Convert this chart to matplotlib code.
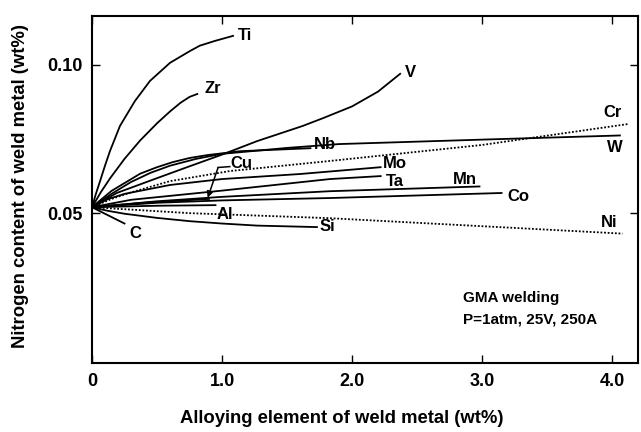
import matplotlib.pyplot as plt
import numpy as np

plt.rcParams.update({'font.family': ['Liberation Sans', 'DejaVu Sans'],
                     'font.weight': 'bold'})

# digitised curves: alloying element (wt%) vs nitrogen content (wt%)
ti_x = [0, 0.03, 0.062, 0.1, 0.138, 0.215, 0.33, 0.446, 0.6, 0.754, 0.83, 0.946, 1.085]
ti_y = [0.052, 0.0565, 0.0608, 0.066, 0.0709, 0.0794, 0.0878, 0.0946, 0.1007, 0.1047, 0.1065, 0.1081, 0.1098]
zr_x = [0, 0.07, 0.14, 0.25, 0.37, 0.5, 0.6, 0.68, 0.75, 0.81]
zr_y = [0.052, 0.0572, 0.0618, 0.0683, 0.0745, 0.0803, 0.0843, 0.0872, 0.0892, 0.0902]
v_x = [0, 0.19, 0.5, 0.75, 1.01, 1.27, 1.62, 1.78, 2.0, 2.2, 2.37]
v_y = [0.052, 0.0568, 0.0618, 0.0658, 0.0699, 0.0743, 0.0794, 0.0821, 0.0860, 0.0910, 0.0970]
nb_x = [0, 0.15, 0.37, 0.5, 0.62, 0.75, 0.89, 1.14, 1.68]
nb_y = [0.052, 0.0575, 0.0633, 0.0655, 0.0672, 0.0686, 0.0696, 0.0709, 0.0719]
w_x = [0, 0.15, 0.3, 0.45, 0.6, 0.8, 1.0, 1.5, 1.9, 3.0, 4.06]
w_y = [0.052, 0.0565, 0.0605, 0.0636, 0.066, 0.0683, 0.0700, 0.0720, 0.0733, 0.0748, 0.0762]
cr_x = [0, 0.15, 0.3, 0.6, 1.06, 1.83, 3.0, 4.13]
cr_y = [0.052, 0.0548, 0.0570, 0.0608, 0.0642, 0.0676, 0.0730, 0.0801]
mo_x = [0, 0.12, 0.25, 0.6, 1.0, 1.6, 2.22]
mo_y = [0.052, 0.0547, 0.0565, 0.0595, 0.0615, 0.0632, 0.0655]
ta_x = [0, 0.3, 1.0, 1.83, 2.22]
ta_y = [0.052, 0.0545, 0.0576, 0.0615, 0.0625]
mn_x = [0, 0.5, 1.0, 1.83, 2.98]
mn_y = [0.052, 0.0540, 0.0555, 0.0574, 0.0590]
co_x = [0, 0.5, 1.0, 1.83, 3.15]
co_y = [0.052, 0.0535, 0.0543, 0.0551, 0.0568]
cu_x = [0, 0.4, 0.9]
cu_y = [0.052, 0.0535, 0.0548]
al_x = [0, 0.5, 0.95]
al_y = [0.052, 0.0525, 0.0527]
ni_x = [0, 0.75, 1.83, 4.08]
ni_y = [0.052, 0.0500, 0.0483, 0.0431]
si_x = [0, 0.12, 0.25, 0.5, 0.75, 1.0, 1.27, 1.73]
si_y = [0.052, 0.0508, 0.0498, 0.0484, 0.0473, 0.0465, 0.0458, 0.0453]
c_x = [0, 0.25]
c_y = [0.052, 0.0465]

solid = [(ti_x, ti_y), (zr_x, zr_y), (v_x, v_y), (nb_x, nb_y), (w_x, w_y),
         (mo_x, mo_y), (ta_x, ta_y), (mn_x, mn_y), (co_x, co_y), (cu_x, cu_y),
         (al_x, al_y), (si_x, si_y), (c_x, c_y)]
dotted = [(cr_x, cr_y), (ni_x, ni_y)]

labels = [('Ti', 1.18, 0.1098), ('Zr', 0.93, 0.0919), ('V', 2.45, 0.0976),
          ('Nb', 1.79, 0.0733), ('Cr', 4.0, 0.0838), ('W', 4.02, 0.0723),
          ('Cu', 1.15, 0.0666), ('Mo', 2.33, 0.0669), ('Ta', 2.33, 0.0608),
          ('Mn', 2.87, 0.0615), ('Co', 3.28, 0.0557), ('Ni', 3.98, 0.0470),
          ('Al', 1.02, 0.0497), ('Si', 1.81, 0.0456), ('C', 0.33, 0.0432)]

fig = plt.figure(figsize=(6.41, 4.32), dpi=100)
ax = fig.add_axes([0.1435, 0.16, 0.852, 0.803])

for xs, ys in solid:
    ax.plot(xs, ys, color='black', lw=1.3, solid_joinstyle='round')
for xs, ys in dotted:
    ax.plot(xs, ys, color='black', lw=1.3, ls=(0, (1, 1)))

for name, lx, ly in labels:
    ax.text(lx, ly, name, fontsize=12, fontweight='bold', ha='center', va='center')

# Cu pointer
ax.plot([1.06, 0.97], [0.0657, 0.0654], color='black', lw=1.1)
ax.annotate('', xy=(0.89, 0.0552), xytext=(0.97, 0.0654),
            arrowprops=dict(arrowstyle='-|>', color='black', lw=1.1,
                            mutation_scale=9, shrinkA=0, shrinkB=0))

ax.text(2.85, 0.0213, 'GMA welding', fontsize=11, fontweight='bold', va='center')
ax.text(2.85, 0.0142, 'P=1atm, 25V, 250A', fontsize=11, fontweight='bold', va='center')

ax.set_xlim(0, 4.2)
ax.set_ylim(-0.0005, 0.1165)
ax.set_xticks([0, 1, 2, 3, 4])
ax.set_xticklabels(['0', '1.0', '2.0', '3.0', '4.0'])
ax.set_yticks([0.05, 0.10])
ax.set_yticklabels(['0.05', '0.10'])
ax.tick_params(direction='in', length=6, width=1, top=True, right=True,
               labelsize=13, pad=7)
for lab in ax.get_xticklabels() + ax.get_yticklabels():
    lab.set_fontweight('bold')
for s in ax.spines.values():
    s.set_linewidth(1.5)

ax.set_xlabel('Alloying element of weld metal (wt%)', fontsize=13.3, fontweight='bold')
ax.set_ylabel('Nitrogen content of weld metal (wt%)', fontsize=13.3, fontweight='bold')
ax.xaxis.set_label_coords(0.458, -0.135)
ax.yaxis.set_label_coords(-0.115, 0.51)

fig.savefig('out.png', dpi=100)
